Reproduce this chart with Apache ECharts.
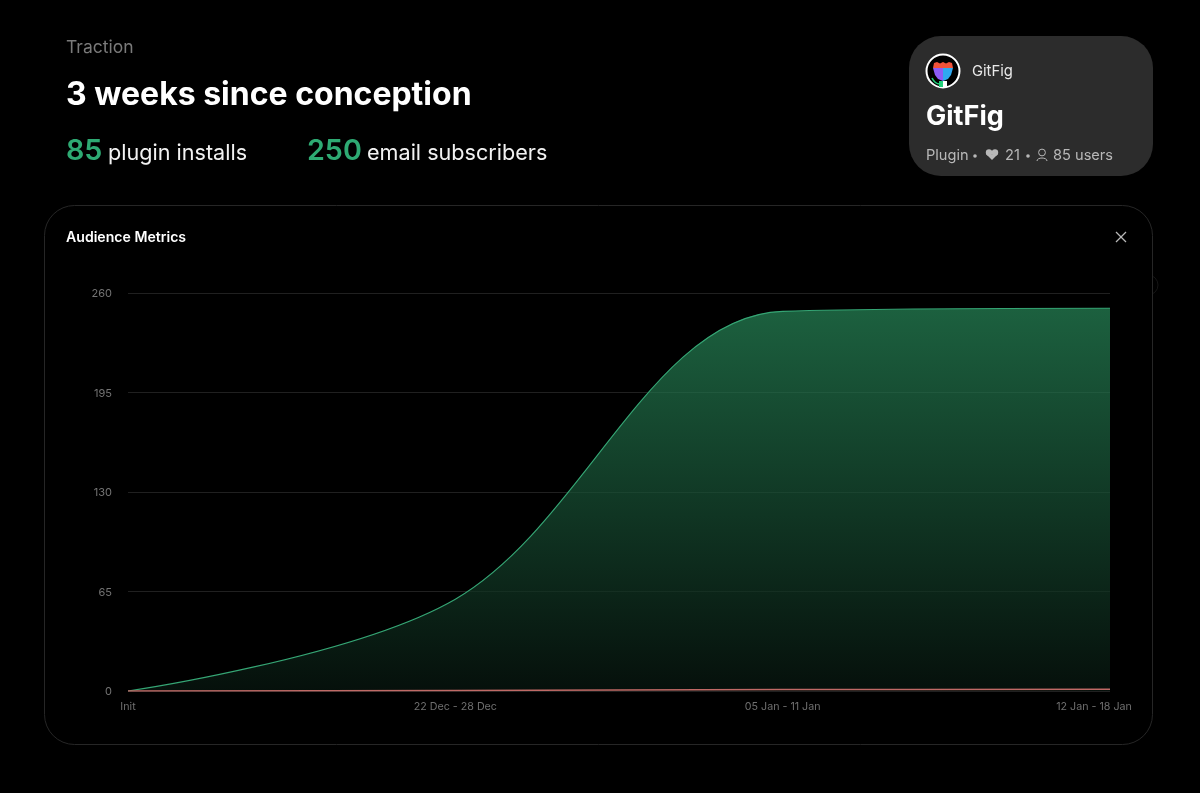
<!DOCTYPE html>
<html><head><meta charset="utf-8">
<style>html,body{margin:0;padding:0;background:#000}#c{width:1200px;height:793px}</style>
<script src="https://cdn.jsdelivr.net/npm/echarts@6/dist/echarts.min.js"></script>
</head><body><div id="c"></div>
<script>
const categories = ['Init', '22 Dec - 28 Dec', '05 Jan - 11 Jan', '12 Jan - 18 Jan'];
const emailSubscribers = [0, 60, 248, 250];
const pluginInstalls = [0, 0.4, 0.9, 1.1];
const yTicks = [0, 65, 130, 195, 260];
const FONT = 'Inter, "Noto Sans", sans-serif';

const chart = echarts.init(document.getElementById('c'), null, {renderer: 'canvas'});
const txt = (x, y, text, size, fill, weight) => ({
  type: 'text', x, y, silent: true, z: 5,
  style: {text, fontFamily: FONT, fontSize: size, fill, fontWeight: weight || 400, verticalAlign: 'middle'}
});
const poly = (points, fill, z) => ({type: 'polygon', z: z || 4, silent: true, shape: {points}, style: {fill}});
const seg = (x1, y1, x2, y2, stroke, w) => ({type: 'line', z: 5, silent: true, shape: {x1, y1, x2, y2}, style: {stroke, lineWidth: w || 1.2}});
const dot = (cx, cy, r, fill) => ({type: 'circle', z: 5, silent: true, shape: {cx, cy, r}, style: {fill}});
const MUTED = '#b8b8b8';
chart.setOption({
  backgroundColor: '#000',
  animation: false,
  graphic: {elements: [
    {type: 'circle', z: 0, silent: true, shape: {cx: 1148, cy: 285, r: 10}, style: {fill: '#000', stroke: '#151515', lineWidth: 1}},
    {type: 'rect', z: 0, silent: true, shape: {x: 44.5, y: 205.5, width: 1108, height: 539, r: 30}, style: {fill: '#000', stroke: '#262626', lineWidth: 1}},
    txt(66, 48, 'Traction', 17.5, '#7a7a7a'),
    txt(66, 95, '3 weeks since conception', 32, '#ffffff', 700),
    txt(66, 151, '85', 28.7, '#2eaa73', 600),
    txt(108, 153, 'plugin installs', 21.6, '#f2f2f2'),
    txt(307, 151, '250', 28.7, '#2eaa73', 600),
    txt(367, 153, 'email subscribers', 21.6, '#f2f2f2'),
    txt(66, 238, 'Audience Metrics', 14.1, '#ffffff', 600),
    seg(1116, 232, 1126, 242, MUTED), seg(1126, 232, 1116, 242, MUTED),
    {type: 'rect', z: 1, silent: true, shape: {x: 909, y: 36, width: 244, height: 140, r: 32}, style: {fill: '#2c2c2c'}},
    {type: 'circle', z: 3, silent: true, shape: {cx: 943, cy: 71, r: 16.5}, style: {fill: '#000', stroke: '#fff', lineWidth: 2}},
    poly([[933, 68], [934, 63], [937, 62], [940, 63.500], [943, 62], [946, 63.500], [949, 62], [952, 63], [953, 68]], '#f0523a'),
    poly([[933, 68], [943, 68], [943, 81], [938, 79], [935, 75]], '#8a5cf6'),
    poly([[943, 68], [953, 68], [951, 75], [948, 79], [943, 81]], '#2ea8f0'),
    {type: 'rect', z: 4, silent: true, shape: {x: 939, y: 81, width: 4, height: 6}, style: {fill: '#22d07a'}},
    {type: 'rect', z: 4, silent: true, shape: {x: 943, y: 81, width: 4, height: 6}, style: {fill: '#ffffff'}},
    {type: 'bezierCurve', z: 4, silent: true, shape: {x1: 932, y1: 78, x2: 940, y2: 84, cpx1: 934, cpy1: 82, cpx2: 937, cpy2: 84}, style: {fill: 'none', stroke: '#22d07a', lineWidth: 1.6}},
    txt(972, 72, 'GitFig', 14.8, '#e8e8e8'),
    txt(926, 117, 'GitFig', 27, '#ffffff', 700),
    txt(926, 156, 'Plugin', 14.6, MUTED),
    dot(975, 156, 1.8, MUTED),
    dot(989, 152.5, 3.2, MUTED), dot(995, 152.5, 3.2, MUTED),
    poly([[986.2, 154.2], [997.8, 154.2], [992, 160]], MUTED, 5),
    txt(1005, 156, '21', 14.6, MUTED),
    dot(1028, 156, 1.8, MUTED),
    {type: 'circle', z: 5, silent: true, shape: {cx: 1042, cy: 152.500, r: 3.4}, style: {fill: 'none', stroke: MUTED, lineWidth: 1}},
    {type: 'bezierCurve', z: 5, silent: true, shape: {x1: 1037, y1: 161, x2: 1047, y2: 161, cpx1: 1037, cpy1: 157, cpx2: 1047, cpy2: 157}, style: {fill: 'none', stroke: MUTED, lineWidth: 1}},
    txt(1053, 156, '85 users', 14.6, MUTED)
  ]},
  grid: {left: 128, right: 90, top: 293, bottom: 102, containLabel: false},
  xAxis: {
    type: 'category', boundaryGap: false,
    data: categories.map((c, i) => i === categories.length - 1 ? {value: c, textStyle: {padding: [0, 32, 0, 0]}} : c),
    axisLine: {show: false}, axisTick: {show: false}, splitLine: {show: false},
    axisLabel: {color: '#6f6f6f', fontSize: 10.7, fontFamily: FONT, margin: 10, interval: 0, hideOverlap: false}
  },
  yAxis: {
    type: 'value', min: yTicks[0], max: yTicks[yTicks.length - 1], interval: yTicks[1] - yTicks[0],
    axisLine: {show: false}, axisTick: {show: false},
    axisLabel: {color: '#747474', fontSize: 11, fontFamily: FONT, margin: 16, verticalAlign: 'top', lineHeight: 14, padding: [-6, 0, 0, 0]},
    splitLine: {lineStyle: {color: '#202020', width: 1}}
  },
  series: [
    {name: 'Email subscribers', type: 'line', data: emailSubscribers, smooth: 0.35, symbol: 'none', z: 2,
     lineStyle: {color: '#35a574', width: 1.1},
     areaStyle: {opacity: 0.7, color: new echarts.graphic.LinearGradient(0, 0, 0, 1, [{offset: 0, color: '#288a5a'}, {offset: 1, color: '#081710'}])}},
    {name: 'Plugin installs', type: 'line', data: pluginInstalls, smooth: 0.35, symbol: 'none', z: 3,
     lineStyle: {color: '#c06a66', width: 1.5}}
  ]
});
</script></body></html>
